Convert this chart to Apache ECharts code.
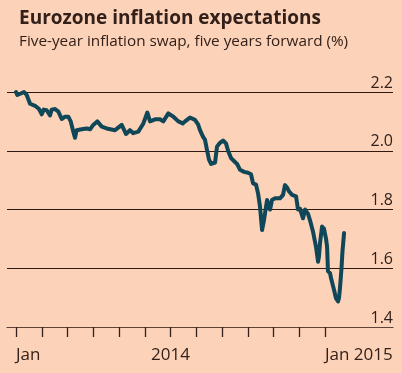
<!DOCTYPE html>
<html>
<head>
<meta charset="utf-8">
<script src="https://cdn.jsdelivr.net/npm/echarts@6/dist/echarts.min.js"></script>
<style>
html,body{margin:0;padding:0;background:#FCD3B9;}
#c{width:402px;height:373px;}
</style>
</head>
<body>
<div id="c"></div>
<script>
// Months since Jan 2013 (0 = Jan 2013)
const months = [0.00,0.10,0.37,0.62,0.83,1.09,1.48,1.79,2.00,2.15,2.38,2.64,2.77,3.03,3.29,3.55,3.81,4.06,4.25,4.45,4.58,4.71,5.10,5.49,5.75,6.00,6.31,6.66,7.04,7.69,8.21,8.54,8.85,9.11,9.50,9.89,10.20,10.41,10.80,11.18,11.44,11.83,12.22,12.61,12.95,13.13,13.51,13.90,14.14,14.29,14.52,14.68,14.83,14.99,15.15,15.30,15.46,15.61,15.84,16.08,16.31,16.47,16.70,16.93,17.17,17.40,17.71,18.02,18.25,18.41,18.64,18.80,18.95,19.11,19.26,19.42,19.50,19.65,19.73,19.88,20.12,20.27,20.50,20.74,20.89,21.05,21.20,21.44,21.75,21.90,22.06,22.21,22.29,22.45,22.52,22.68,22.83,23.07,23.30,23.46,23.53,23.61,23.77,23.92,24.08,24.16,24.23,24.39,24.47,24.62,24.70,24.85,25.01,25.09,25.17,25.28,25.36,25.48];
// Five-year inflation swap, five years forward (%)
const swapRate = [2.200,2.190,2.195,2.200,2.190,2.160,2.153,2.142,2.124,2.140,2.138,2.120,2.140,2.142,2.133,2.108,2.116,2.116,2.100,2.065,2.044,2.070,2.073,2.076,2.073,2.088,2.100,2.082,2.076,2.070,2.088,2.057,2.070,2.060,2.065,2.093,2.130,2.100,2.107,2.107,2.100,2.127,2.116,2.100,2.093,2.100,2.113,2.105,2.090,2.070,2.048,2.037,2.003,1.970,1.955,1.950,1.960,2.014,2.027,2.035,2.025,2.000,1.975,1.965,1.955,1.935,1.928,1.925,1.920,1.889,1.885,1.855,1.810,1.730,1.764,1.810,1.832,1.810,1.800,1.832,1.838,1.835,1.838,1.850,1.883,1.875,1.862,1.850,1.845,1.800,1.802,1.800,1.770,1.800,1.800,1.785,1.764,1.724,1.673,1.622,1.640,1.685,1.742,1.735,1.700,1.673,1.590,1.583,1.566,1.540,1.526,1.498,1.487,1.500,1.537,1.600,1.660,1.720];

const yTicks = [1.4, 1.6, 1.8, 2.0, 2.2];
const tickMonths = [0,2,4,6,8,10,12,14,16,18,20,22,24];
const edgeLabelMonths = [0, 24];
const edgeLabelText = {0: 'Jan', 24: 'Jan 2015'};
const midLabelMonths = [12];
const midLabelText = {12: '2014'};

const titleText = 'Eurozone inflation expectations';
const subtitleText = 'Five-year inflation swap, five years forward (%)';

const FONT = 'Open Sans';
const TXT = '#33201a';

const chart = echarts.init(document.getElementById('c'), null, {renderer: 'canvas'});
const xMin = -0.70, xMax = 29.28;

chart.setOption({
  backgroundColor: '#FCD3B9',
  animation: false,
  title: [
    {text: titleText, left: 14, top: 4,
     textStyle: {fontFamily: FONT, fontWeight: 'bold', fontSize: 19, color: '#33201a'}},
    {text: subtitleText, left: 14, top: 29,
     textStyle: {fontFamily: FONT, fontWeight: 'normal', fontSize: 15.3, color: '#33201a'}}
  ],
  grid: {left: 7, right: 9, top: 92, bottom: 46},
  xAxis: [
    {type: 'value', min: xMin, max: xMax, position: 'bottom',
     axisLine: {show: true, lineStyle: {color: '#5e4236', width: 1.2}},
     axisTick: {show: true, customValues: tickMonths, length: 10, lineStyle: {color: '#33201a', width: 1.3}},
     axisLabel: {show: true, customValues: edgeLabelMonths, align: 'left', margin: 20,
       fontFamily: FONT, fontSize: 17, color: TXT,
       formatter: v => edgeLabelText[Math.round(v)] || ''},
     splitLine: {show: false}},
    {type: 'value', min: xMin, max: xMax, position: 'bottom',
     axisLine: {show: false}, axisTick: {show: false},
     axisLabel: {show: true, customValues: midLabelMonths, align: 'center', margin: 20,
       fontFamily: FONT, fontSize: 17, color: TXT,
       formatter: v => midLabelText[Math.round(v)] || ''},
     splitLine: {show: false}}
  ],
  yAxis: {
    type: 'value', position: 'right', min: 1.4, max: 2.2, interval: 0.2,
    axisLine: {show: false}, axisTick: {show: false},
    axisLabel: {inside: true, margin: 0, verticalAlign: 'bottom', align: 'right',
      padding: [0, 0, 1, 0], fontFamily: FONT, fontSize: 16, color: TXT,
      formatter: v => v.toFixed(1)},
    splitLine: {show: true, lineStyle: {color: '#2e1a10', width: 1.2}}
  },
  series: [{
    type: 'line', xAxisIndex: 0,
    data: months.map((m, i) => [m, swapRate[i]]),
    showSymbol: false, clip: false,
    lineStyle: {color: '#0F4658', width: 4, join: 'round', cap: 'round'}
  }]
});
</script>
</body>
</html>
